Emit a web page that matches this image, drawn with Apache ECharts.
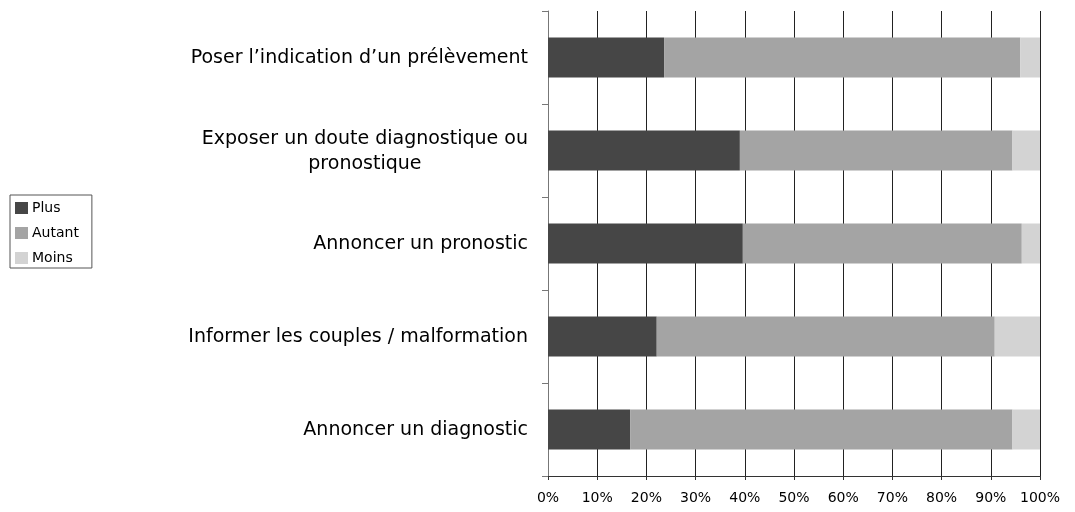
<!DOCTYPE html>
<html>
<head>
<meta charset="utf-8">
<script src="https://cdn.jsdelivr.net/npm/echarts@6/dist/echarts.min.js"></script>
<style>html,body{margin:0;padding:0;background:#fff}#c{width:1075px;height:512px}</style>
</head>
<body>
<div id="c"></div>
<script>
var categories = [
  "Poser l’indication d’un prélèvement",
  "Exposer un doute diagnostique ou\npronostique",
  "Annoncer un pronostic",
  "Informer les couples / malformation",
  "Annoncer un diagnostic"
];
var seriesNames = ["Plus", "Autant", "Moins"];
var plus   = [23.6, 39.0, 39.6, 22.1, 16.7];
var autant = [72.4, 55.4, 56.7, 68.7, 77.7];
var moins  = [4.0, 5.6, 3.7, 9.2, 5.6];
var xTicks = [0, 10, 20, 30, 40, 50, 60, 70, 80, 90, 100];

var colors = ["#464646", "#a4a4a4", "#d3d3d3"];
var FONT = "DejaVu Sans";

var chart = echarts.init(document.getElementById('c'), null, {renderer: 'canvas'});
var data = [plus, autant, moins];
chart.setOption({
  animation: false,
  grid: {left: 548, right: 35, top: 11, bottom: 36, containLabel: false},
  legend: {
    orient: 'vertical', left: 10, top: 195,
    data: seriesNames,
    itemWidth: 13, itemHeight: 12, itemGap: 11,
    padding: [6, 13, 3, 5],
    borderColor: '#555', borderWidth: 1,
    icon: 'rect',
    textStyle: {fontFamily: FONT, fontSize: 14, color: '#000', padding: [0, 0, 0, -1]},
    itemStyle: {borderWidth: 0}
  },
  xAxis: {
    type: 'value', min: xTicks[0], max: xTicks[xTicks.length - 1], interval: 10,
    axisLine: {show: true, lineStyle: {color: '#333', width: 1}},
    axisTick: {show: true, length: 4, lineStyle: {color: '#333'}},
    splitLine: {show: true, lineStyle: {color: '#222', width: 1}},
    axisLabel: {formatter: '{value}%', fontFamily: FONT, fontSize: 14, color: '#000', margin: 15}
  },
  yAxis: {
    type: 'category', data: categories, inverse: true,
    axisLine: {show: true, lineStyle: {color: '#777', width: 1}},
    axisTick: {show: true, length: 6, lineStyle: {color: '#777'}},
    axisLabel: {
      fontFamily: FONT, fontSize: 19, color: '#000', margin: 20, lineHeight: 25,
      formatter: function (v) {
        return v.split('\n').map(function (s) { return '{c|' + s + '}'; }).join('\n');
      },
      rich: {c: {align: 'center', fontFamily: FONT, fontSize: 19, color: '#000', lineHeight: 25, padding: [2, 0, 0, 0]}}
    }
  },
  series: seriesNames.map(function (n, i) {
    return {
      name: n, type: 'bar', stack: 'total', barWidth: 40,
      itemStyle: {color: colors[i]},
      data: data[i]
    };
  })
});
</script>
</body>
</html>
